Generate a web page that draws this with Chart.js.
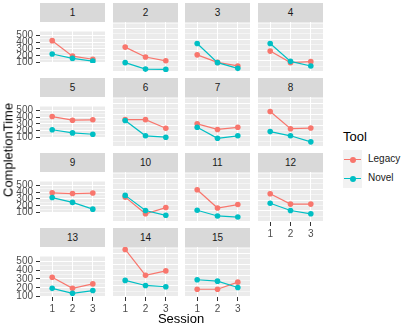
<!DOCTYPE html>
<html lang="en">
<head>
  <meta charset="UTF-8" />
  <title>CompletionTime by Session</title>
  <script src="https://cdn.jsdelivr.net/npm/chart.js"></script>
  <style>
    body { margin: 0; background: #fff; font-family: "Liberation Sans", Arial, sans-serif; }
    #wrap { position: relative; width: 401px; height: 325px; overflow: hidden; }
    .strip { position: absolute; background: #D9D9D9; color: #1A1A1A; font-size: 10px; text-align: center; }
    .panel { position: absolute; }
    .ytitle { position: absolute; left: 8px; top: 150px; font-size: 13px; color: #000;
              transform: translate(-50%, -50%) rotate(-90deg); white-space: nowrap; }
    .xtitle { position: absolute; left: 181px; top: 318px; font-size: 13px; color: #000;
              transform: translate(-50%, -50%); white-space: nowrap; }
    .legtitle { position: absolute; left: 343px; top: 129px; font-size: 13px; color: #000; }
    .key { position: absolute; left: 343px; width: 19px; height: 19px; background: #F2F2F2; }
    .key .ln { position: absolute; left: 1px; right: 1px; top: 9px; height: 1.2px; }
    .key .pt { position: absolute; left: 6.5px; top: 6.5px; width: 6px; height: 6px; border-radius: 50%; }
    .legtext { position: absolute; left: 368px; font-size: 10px; color: #1A1A1A; }
  </style>
</head>
<body>
  <div id="wrap"></div>

  <script>
    // facet labels, sessions and values
    const panels = ['1', '2', '3', '4', '5', '6', '7', '8', '9', '10', '11', '12', '13', '14', '15'];
    const sessions = [1, 2, 3];
    const legacy = [
      [420, 195, 150],
      [327, 235, 200],
      [255, 185, 152],
      [290, 183, 192],
      [407, 354, 360],
      [350, 350, 270],
      [311, 259, 279],
      [426, 266, 272],
      [388, 378, 385],
      [327, 172, 230],
      [395, 226, 258],
      [358, 262, 262],
      [319, 194, 244],
      [537, 297, 338],
      [168, 168, 234]
    ];
    const novel = [
      [226, 163, 123],
      [183, 123, 120],
      [360, 183, 130],
      [360, 195, 152],
      [216, 170, 150],
      [342, 200, 187],
      [279, 177, 200],
      [239, 200, 144],
      [320, 250, 152],
      [343, 203, 158],
      [205, 152, 142],
      [270, 203, 172],
      [194, 138, 169],
      [250, 203, 191],
      [256, 243, 184]
    ];
    const yTicks = [100, 200, 300, 400, 500];
    const seriesNames = ['Legacy', 'Novel'];
    const seriesColors = ['#F8766D', '#00BFC4'];

    const FONT = '"Liberation Sans", Arial, sans-serif';
    const colLeft = [40, 113, 185, 258];
    const rowTop = [3, 78, 153, 228];
    const PW = 65, SH = 19, PH = 50, YAX = 40, XAX = 20;

    // minor grid lines halfway between the labelled ones
    const yGrid = [];
    yTicks.forEach(v => { yGrid.push(v, v + 50); });

    const panelBg = {
      id: 'panelBg',
      beforeDraw(chart) {
        const { ctx, chartArea: a } = chart;
        ctx.save();
        ctx.fillStyle = '#EBEBEB';
        ctx.fillRect(a.left, a.top, a.right - a.left, a.bottom - a.top);
        ctx.restore();
      }
    };

    const wrap = document.getElementById('wrap');

    panels.forEach((name, p) => {
      const row = Math.floor(p / 4), col = p % 4;
      const showY = col === 0;
      // bottom panel of each column carries the x axis
      const showX = p + 4 >= panels.length;

      const strip = document.createElement('div');
      strip.className = 'strip';
      strip.style.left = colLeft[col] + 'px';
      strip.style.top = rowTop[row] + 'px';
      strip.style.width = PW + 'px';
      strip.style.height = SH + 'px';
      strip.style.lineHeight = SH + 'px';
      strip.textContent = name;
      wrap.appendChild(strip);

      const w = PW + (showY ? YAX : 0);
      const h = PH + (showX ? XAX : 0);
      const canvas = document.createElement('canvas');
      canvas.className = 'panel';
      canvas.width = w;
      canvas.height = h;
      canvas.style.left = (colLeft[col] - (showY ? YAX : 0)) + 'px';
      canvas.style.top = (rowTop[row] + SH) + 'px';
      wrap.appendChild(canvas);

      const datasets = [legacy[p], novel[p]].map((vals, k) => ({
        label: seriesNames[k],
        data: sessions.map((s, i) => ({ x: s, y: vals[i] })),
        borderColor: seriesColors[k],
        backgroundColor: seriesColors[k],
        borderWidth: 1.2,
        pointRadius: 2.8,
        pointBorderWidth: 0,
        tension: 0,
        order: 1 - k
      }));

      new Chart(canvas.getContext('2d'), {
        type: 'line',
        data: { datasets },
        plugins: [panelBg],
        options: {
          responsive: false,
          animation: false,
          events: [],
          layout: { padding: 0, autoPadding: false },
          plugins: { legend: { display: false }, tooltip: { enabled: false } },
          scales: {
            x: {
              type: 'linear',
              min: 0.4,
              max: 3.6,
              afterBuildTicks: s => { s.ticks = sessions.map(v => ({ value: v })); },
              afterFit: s => { s.height = showX ? XAX : 0; },
              border: { display: false },
              grid: { color: '#FFFFFF', lineWidth: 1, drawTicks: showX, tickLength: 4, tickColor: '#333333' },
              ticks: { display: showX, autoSkip: false, padding: 2, maxRotation: 0, color: '#4D4D4D',
                       font: { size: 10, family: FONT } }
            },
            y: {
              type: 'linear',
              min: 96,
              max: 560,
              afterBuildTicks: s => { s.ticks = yGrid.map(v => ({ value: v })); },
              afterFit: s => { s.width = showY ? YAX : 0; },
              border: { display: false },
              grid: {
                color: '#FFFFFF',
                lineWidth: c => (c.tick && yTicks.includes(c.tick.value)) ? 1 : 0.5,
                drawTicks: showY,
                tickLength: 4,
                tickColor: c => (c.tick && yTicks.includes(c.tick.value)) ? '#333333' : 'rgba(0,0,0,0)'
              },
              ticks: {
                display: showY,
                autoSkip: false,
                padding: 3,
                color: '#4D4D4D',
                font: { size: 10, family: FONT },
                callback: v => yTicks.includes(v) ? String(v) : ''
              }
            }
          }
        }
      });
    });

    // axis titles
    const yt = document.createElement('div');
    yt.className = 'ytitle';
    yt.textContent = 'CompletionTime';
    wrap.appendChild(yt);
    const xt = document.createElement('div');
    xt.className = 'xtitle';
    xt.textContent = 'Session';
    wrap.appendChild(xt);

    // legend
    const lt = document.createElement('div');
    lt.className = 'legtitle';
    lt.textContent = 'Tool';
    wrap.appendChild(lt);
    seriesNames.forEach((n, k) => {
      const top = 150 + k * 19;
      const key = document.createElement('div');
      key.className = 'key';
      key.style.top = top + 'px';
      key.innerHTML = '<div class="ln" style="background:' + seriesColors[k] + '"></div>' +
                      '<div class="pt" style="background:' + seriesColors[k] + '"></div>';
      wrap.appendChild(key);
      const t = document.createElement('div');
      t.className = 'legtext';
      t.style.top = (top + 3) + 'px';
      t.textContent = n;
      wrap.appendChild(t);
    });
  </script>
</body>
</html>
